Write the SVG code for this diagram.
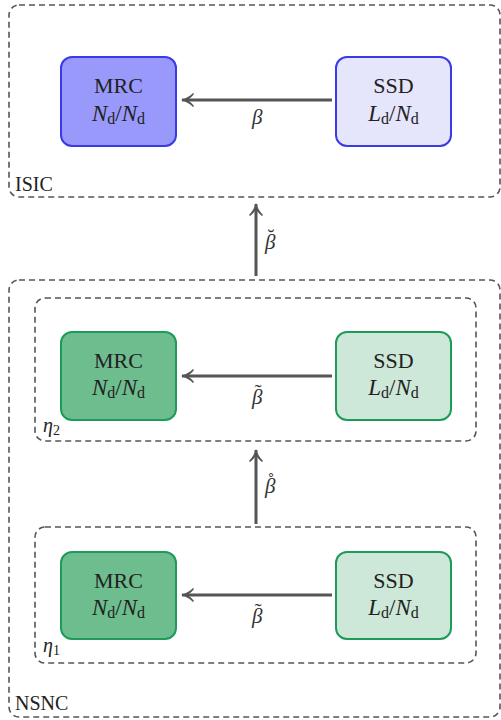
<svg xmlns="http://www.w3.org/2000/svg" width="501" height="720" viewBox="0 0 501 720">
<defs>
<marker id="arr" viewBox="-12 -8 14 16" markerWidth="14" markerHeight="16" refX="0" refY="0" orient="auto" markerUnits="userSpaceOnUse">
<path fill="#555" d="M1,0 C-4,-1.5 -8,-4 -11,-7 L-12,-6 C-10,-3 -7,-1 -5,0 C-7,1 -10,3 -12,6 L-11,7 C-8,4 -4,1.5 1,0 Z"/>
</marker>
</defs>

<g id="ISIC">
<rect fill="none" stroke="#555" stroke-width="1.6" stroke-dasharray="6,4" x="9" y="5" width="491" height="192" rx="10"/>
<text font-family="Liberation Serif" font-size="20" fill="#222" x="15" y="191">ISIC</text>
</g>
<g id="NSNC">
<rect fill="none" stroke="#555" stroke-width="1.6" stroke-dasharray="6,4" x="9" y="280" width="491" height="437" rx="10"/>
<text font-family="Liberation Serif" font-size="20" fill="#222" x="15" y="710">NSNC</text>
</g>
<g id="eta2">
<rect fill="none" stroke="#555" stroke-width="1.6" stroke-dasharray="6,4" x="35" y="298" width="441" height="143" rx="10"/>
<text font-family="Liberation Serif" font-size="20" fill="#222" x="43" y="432"><tspan font-style="italic">η</tspan><tspan font-size="14" dy="3">2</tspan></text>
</g>
<g id="eta1">
<rect fill="none" stroke="#555" stroke-width="1.6" stroke-dasharray="6,4" x="35" y="527" width="441" height="136" rx="10"/>
<text font-family="Liberation Serif" font-size="20" fill="#222" x="43" y="652"><tspan font-style="italic">η</tspan><tspan font-size="14" dy="3">1</tspan></text>
</g>

<g id="isic-mrc">
<rect fill="#9999fb" stroke="#3a3ae8" stroke-width="2" x="61" y="57" width="115" height="89" rx="11"/>
<text font-family="Liberation Serif" font-size="22" fill="#222" text-anchor="middle" x="118.5" y="93">MRC</text>
<text font-family="Liberation Serif" font-size="23" fill="#222" text-anchor="middle" x="118.5" y="121"><tspan font-style="italic">N</tspan><tspan font-size="16" dy="3">d</tspan><tspan dy="-3">/</tspan><tspan font-style="italic">N</tspan><tspan font-size="16" dy="3">d</tspan></text>
</g>
<g id="isic-ssd">
<rect fill="#e5e5fb" stroke="#3a3ae8" stroke-width="2" x="336" y="57" width="115" height="89" rx="11"/>
<text font-family="Liberation Serif" font-size="22" fill="#222" text-anchor="middle" x="393.5" y="93">SSD</text>
<text font-family="Liberation Serif" font-size="23" fill="#222" text-anchor="middle" x="393.5" y="121"><tspan font-style="italic">L</tspan><tspan font-size="16" dy="3">d</tspan><tspan dy="-3">/</tspan><tspan font-style="italic">N</tspan><tspan font-size="16" dy="3">d</tspan></text>
</g>

<g id="eta2-mrc">
<rect fill="#6ebd8e" stroke="#1c9b5b" stroke-width="2" x="61" y="332" width="115" height="88" rx="11"/>
<text font-family="Liberation Serif" font-size="22" fill="#222" text-anchor="middle" x="118.5" y="368">MRC</text>
<text font-family="Liberation Serif" font-size="23" fill="#222" text-anchor="middle" x="118.5" y="395"><tspan font-style="italic">N</tspan><tspan font-size="16" dy="3">d</tspan><tspan dy="-3">/</tspan><tspan font-style="italic">N</tspan><tspan font-size="16" dy="3">d</tspan></text>
</g>
<g id="eta2-ssd">
<rect fill="#cde8d8" stroke="#1c9b5b" stroke-width="2" x="336" y="332" width="115" height="88" rx="11"/>
<text font-family="Liberation Serif" font-size="22" fill="#222" text-anchor="middle" x="393.5" y="368">SSD</text>
<text font-family="Liberation Serif" font-size="23" fill="#222" text-anchor="middle" x="393.5" y="395"><tspan font-style="italic">L</tspan><tspan font-size="16" dy="3">d</tspan><tspan dy="-3">/</tspan><tspan font-style="italic">N</tspan><tspan font-size="16" dy="3">d</tspan></text>
</g>

<g id="eta1-mrc">
<rect fill="#6ebd8e" stroke="#1c9b5b" stroke-width="2" x="61" y="552" width="115" height="87" rx="11"/>
<text font-family="Liberation Serif" font-size="22" fill="#222" text-anchor="middle" x="118.5" y="588">MRC</text>
<text font-family="Liberation Serif" font-size="23" fill="#222" text-anchor="middle" x="118.5" y="615"><tspan font-style="italic">N</tspan><tspan font-size="16" dy="3">d</tspan><tspan dy="-3">/</tspan><tspan font-style="italic">N</tspan><tspan font-size="16" dy="3">d</tspan></text>
</g>
<g id="eta1-ssd">
<rect fill="#cde8d8" stroke="#1c9b5b" stroke-width="2" x="336" y="552" width="115" height="87" rx="11"/>
<text font-family="Liberation Serif" font-size="22" fill="#222" text-anchor="middle" x="393.5" y="588">SSD</text>
<text font-family="Liberation Serif" font-size="23" fill="#222" text-anchor="middle" x="393.5" y="615"><tspan font-style="italic">L</tspan><tspan font-size="16" dy="3">d</tspan><tspan dy="-3">/</tspan><tspan font-style="italic">N</tspan><tspan font-size="16" dy="3">d</tspan></text>
</g>

<g id="connectors" stroke="#555" stroke-width="3" fill="none">
<line x1="332" y1="100" x2="182" y2="100" marker-end="url(#arr)"/>
<line x1="256" y1="276" x2="256" y2="204" marker-end="url(#arr)"/>
<line x1="332" y1="376" x2="182" y2="376" marker-end="url(#arr)"/>
<line x1="256" y1="524" x2="256" y2="450" marker-end="url(#arr)"/>
<line x1="332" y1="595" x2="182" y2="595" marker-end="url(#arr)"/>
</g>
<g id="connector-labels">
<text font-family="Liberation Serif" font-size="21" font-style="italic" fill="#333" x="252" y="124">β</text>
<text font-family="Liberation Serif" font-size="21" font-style="italic" fill="#333" x="265" y="249">β<tspan font-style="normal" dx="-8" dy="-5">˘</tspan></text>
<text font-family="Liberation Serif" font-size="21" font-style="italic" fill="#333" x="252" y="404">β<tspan font-style="normal" dx="-8" dy="-5">˜</tspan></text>
<text font-family="Liberation Serif" font-size="21" font-style="italic" fill="#333" x="265" y="493">β<tspan font-style="normal" dx="-8" dy="-5">˚</tspan></text>
<text font-family="Liberation Serif" font-size="21" font-style="italic" fill="#333" x="252" y="623">β<tspan font-style="normal" dx="-8" dy="-5">˜</tspan></text>
</g>
</svg>
